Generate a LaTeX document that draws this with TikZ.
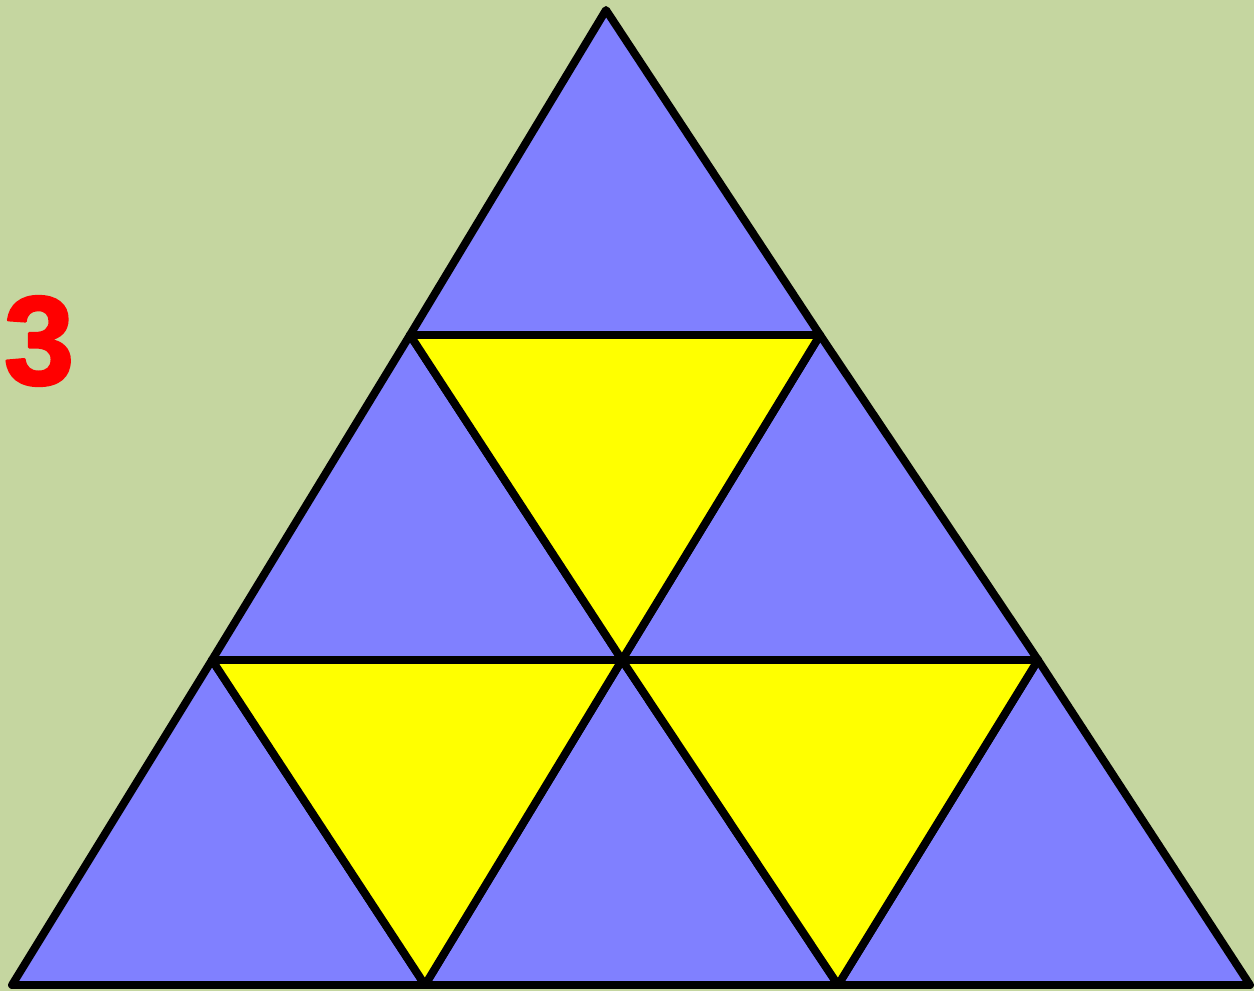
\documentclass[tikz,border=0pt]{standalone}
\usepackage{fontspec}
\setmainfont{Liberation Sans}
\newfontfamily\tgheavy{Liberation Sans Bold}[FakeBold=2]
\usepackage{xcolor}
\definecolor{tgBack}{HTML}{C5D6A0}
\definecolor{tgBlue}{HTML}{8080FF}
\definecolor{tgYellow}{HTML}{FFFF00}
\definecolor{tgRed}{HTML}{FF0000}
\tikzset{
  tg diagram/.style={x=0.02cm, y=-0.02cm, line cap=round, line join=round},
  tg up/.style={fill=tgBlue, draw=black, line width=4.5pt},
  tg down/.style={fill=tgYellow, draw=black, line width=4.5pt},
  tg label/.style={font=\tgheavy\fontsize{72}{72}\selectfont, text=tgRed}
}
\begin{document}
\begin{tikzpicture}[tg diagram]
\fill[tgBack] (0,0) rectangle (1254,991);
\useasboundingbox (0,0) rectangle (1254,991);
% grid points
\coordinate (a) at (606,10);
\coordinate (b1) at (410,335);
\coordinate (b2) at (820,335);
\coordinate (c1) at (212,660);
\coordinate (c2) at (622,660);
\coordinate (c3) at (1038,660);
\coordinate (d1) at (12,985);
\coordinate (d2) at (425,985);
\coordinate (d3) at (838,985);
\coordinate (d4) at (1250,985);
% upward triangles
\draw[tg up] (a) -- (b1) -- (b2) -- cycle;
\draw[tg up] (b1) -- (c1) -- (c2) -- cycle;
\draw[tg up] (b2) -- (c2) -- (c3) -- cycle;
\draw[tg up] (c1) -- (d1) -- (d2) -- cycle;
\draw[tg up] (c2) -- (d2) -- (d3) -- cycle;
\draw[tg up] (c3) -- (d3) -- (d4) -- cycle;
% downward triangles
\draw[tg down] (b1) -- (b2) -- (c2) -- cycle;
\draw[tg down] (c1) -- (c2) -- (d2) -- cycle;
\draw[tg down] (c2) -- (c3) -- (d3) -- cycle;
\node[tg label] (num) at (39,341) {3};
\end{tikzpicture}
\end{document}
